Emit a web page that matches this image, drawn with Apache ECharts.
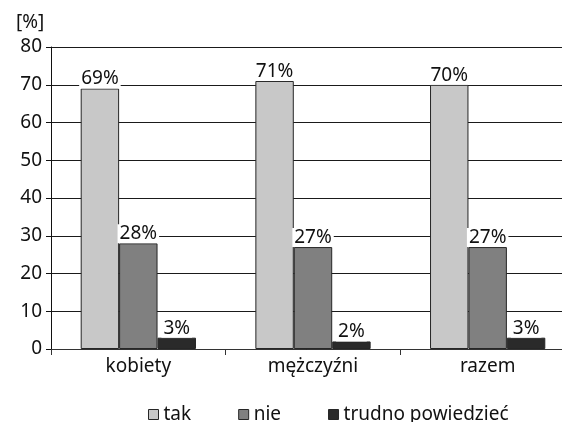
<!DOCTYPE html>
<html>
<head>
<meta charset="utf-8">
<script src="https://cdn.jsdelivr.net/npm/echarts@6/dist/echarts.min.js"></script>
<style>
  html, body { margin: 0; padding: 0; background: #fff; }
  #chart { width: 562px; height: 422px; }
</style>
</head>
<body>
<div id="chart"></div>
<script>
// Survey answers by group, in percent
const categories = ['kobiety', 'mężczyźni', 'razem'];
const seriesNames = ['tak', 'nie', 'trudno powiedzieć'];
const takValues = [69, 71, 70];
const nieValues = [28, 27, 27];
const trudnoValues = [3, 2, 3];

const colors = ['#c8c8c8', '#808080', '#2a2a2a'];
const FONT = '"Noto Sans", "Open Sans", sans-serif';
const FS = 19;

function barSeries(name, data, color) {
  return {
    name: name,
    type: 'bar',
    data: data,
    barGap: '0%',
    barCategoryGap: '34%',
    itemStyle: { color: color, borderColor: '#262626', borderWidth: 1 },
    label: {
      show: true,
      position: 'top',
      distance: 0,
      formatter: '{c}%',
      color: '#111',
      fontFamily: FONT,
      fontSize: FS,
      backgroundColor: '#fff',
      padding: [0, 2, 0, 2],
      lineHeight: 19
    }
  };
}

const chart = echarts.init(document.getElementById('chart'), null, { renderer: 'canvas' });
chart.setOption({
  animation: false,
  backgroundColor: '#fff',
  textStyle: { fontFamily: FONT },
  title: {
    text: '[%]',
    left: 11,
    top: 8,
    textStyle: { fontFamily: FONT, fontSize: FS, fontWeight: 'normal', color: '#111' }
  },
  legend: {
    top: 400,
    left: 143,
    itemWidth: 10,
    itemHeight: 10,
    itemGap: 47,
    icon: 'rect',
    textStyle: { fontFamily: FONT, fontSize: FS, color: '#111' },
    itemStyle: { borderColor: '#262626', borderWidth: 1 },
    data: seriesNames
  },
  grid: {
    left: 51,
    top: 47,
    right: -13,
    height: 302,
    containLabel: false,
    outerBoundsMode: 'none'
  },
  xAxis: {
    type: 'category',
    data: categories,
    axisLine: { lineStyle: { color: '#333', width: 1 } },
    axisTick: { show: true, length: 6, lineStyle: { color: '#333' } },
    axisLabel: { fontFamily: FONT, fontSize: FS, color: '#111', margin: 8 }
  },
  yAxis: {
    type: 'value',
    min: 0,
    max: 80,
    interval: 10,
    axisLine: { show: true, lineStyle: { color: '#111', width: 1 } },
    axisTick: { show: true, length: 5, lineStyle: { color: '#111' } },
    axisLabel: { fontFamily: FONT, fontSize: FS, color: '#111', margin: 9 },
    splitLine: { show: true, lineStyle: { color: '#1a1a1a', width: 1 } }
  },
  series: [
    barSeries(seriesNames[0], takValues, colors[0]),
    barSeries(seriesNames[1], nieValues, colors[1]),
    barSeries(seriesNames[2], trudnoValues, colors[2])
  ]
});
</script>
</body>
</html>
